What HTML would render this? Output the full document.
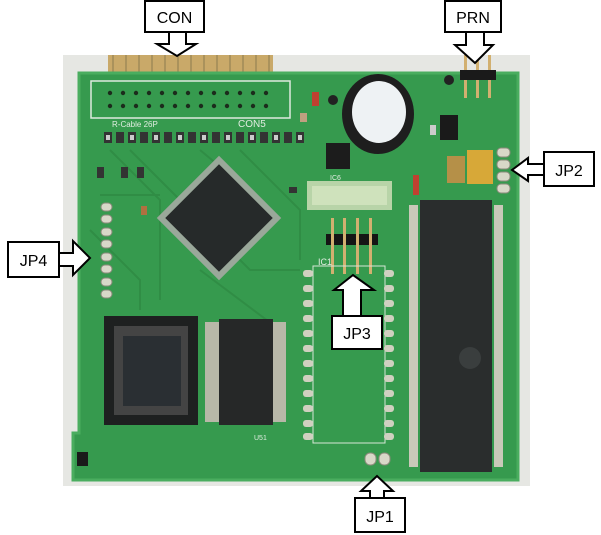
<!DOCTYPE html>
<html><head><meta charset="utf-8"><style>
html,body{margin:0;padding:0;background:#fff;width:601px;height:535px;overflow:hidden}
svg{display:block}
text{font-family:"Liberation Sans",sans-serif}
</style></head><body>
<svg width="601" height="535" viewBox="0 0 601 535" xmlns="http://www.w3.org/2000/svg">
<rect x="63" y="55" width="467" height="431" fill="#e6e7e3"/>
<!-- gold fingers -->
<g fill="#c9a969">
<rect x="108" y="55" width="165" height="19"/>
</g>
<g stroke="#8a7a50" stroke-width="1">
<line x1="113" y1="55" x2="113" y2="73"/><line x1="126" y1="55" x2="126" y2="73"/><line x1="139" y1="55" x2="139" y2="73"/><line x1="152" y1="55" x2="152" y2="73"/><line x1="165" y1="55" x2="165" y2="73"/><line x1="178" y1="55" x2="178" y2="73"/><line x1="191" y1="55" x2="191" y2="73"/><line x1="204" y1="55" x2="204" y2="73"/><line x1="217" y1="55" x2="217" y2="73"/><line x1="230" y1="55" x2="230" y2="73"/><line x1="243" y1="55" x2="243" y2="73"/><line x1="256" y1="55" x2="256" y2="73"/><line x1="269" y1="55" x2="269" y2="73"/>
</g>
<!-- board -->
<path d="M79 73 H518 V480 H73 V433 H79 Z" fill="#369a4e"/>
<path d="M79 73 H518 V480 H73 V433 H79 Z" fill="none" stroke="#4aad5f" stroke-width="3"/>
<!-- traces suggestion -->
<g stroke="#2f8a44" stroke-width="2" fill="none" opacity="0.8">
<path d="M110 150 L160 200 L160 300"/><path d="M130 150 L250 270 L300 270"/><path d="M200 150 L260 200"/><path d="M240 150 L300 210 L300 260"/><path d="M90 230 L140 280 L140 310"/><path d="M200 270 L280 330"/><path d="M100 195 H160"/>
</g>
<!-- CON5 connector -->
<rect x="91" y="81" width="199" height="37" fill="none" stroke="#dfe9df" stroke-width="1.5"/>
<g fill="#2a3a2a">
<rect x="108" y="90" width="190" height="4" fill="none"/>
</g>
<g fill="#1c2b1c">
<circle cx="110" cy="93" r="2.2"/><circle cx="123" cy="93" r="2.2"/><circle cx="136" cy="93" r="2.2"/><circle cx="149" cy="93" r="2.2"/><circle cx="162" cy="93" r="2.2"/><circle cx="175" cy="93" r="2.2"/><circle cx="188" cy="93" r="2.2"/><circle cx="201" cy="93" r="2.2"/><circle cx="214" cy="93" r="2.2"/><circle cx="227" cy="93" r="2.2"/><circle cx="240" cy="93" r="2.2"/><circle cx="253" cy="93" r="2.2"/><circle cx="266" cy="93" r="2.2"/>
<circle cx="110" cy="106" r="2.2"/><circle cx="123" cy="106" r="2.2"/><circle cx="136" cy="106" r="2.2"/><circle cx="149" cy="106" r="2.2"/><circle cx="162" cy="106" r="2.2"/><circle cx="175" cy="106" r="2.2"/><circle cx="188" cy="106" r="2.2"/><circle cx="201" cy="106" r="2.2"/><circle cx="214" cy="106" r="2.2"/><circle cx="227" cy="106" r="2.2"/><circle cx="240" cy="106" r="2.2"/><circle cx="253" cy="106" r="2.2"/><circle cx="266" cy="106" r="2.2"/>
</g>
<text x="112" y="127" font-size="8" fill="#e0ece0">R-Cable 26P</text>
<text x="238" y="127" font-size="10" fill="#e0ece0">CON5</text>
<!-- resistor row -->
<g fill="#333">
<rect x="104" y="132" width="8" height="11"/><rect x="116" y="132" width="8" height="11"/><rect x="128" y="132" width="8" height="11"/><rect x="140" y="132" width="8" height="11"/><rect x="152" y="132" width="8" height="11"/><rect x="164" y="132" width="8" height="11"/><rect x="176" y="132" width="8" height="11"/><rect x="188" y="132" width="8" height="11"/><rect x="200" y="132" width="8" height="11"/><rect x="212" y="132" width="8" height="11"/><rect x="224" y="132" width="8" height="11"/><rect x="236" y="132" width="8" height="11"/><rect x="248" y="132" width="8" height="11"/><rect x="260" y="132" width="8" height="11"/><rect x="272" y="132" width="8" height="11"/><rect x="284" y="132" width="8" height="11"/><rect x="296" y="132" width="8" height="11"/>
</g>
<g fill="#ccc"><rect x="106" y="135" width="4" height="5"/><rect x="130" y="135" width="4" height="5"/><rect x="154" y="135" width="4" height="5"/><rect x="178" y="135" width="4" height="5"/><rect x="202" y="135" width="4" height="5"/><rect x="226" y="135" width="4" height="5"/><rect x="250" y="135" width="4" height="5"/><rect x="274" y="135" width="4" height="5"/><rect x="298" y="135" width="4" height="5"/></g>
<!-- small parts -->
<rect x="97" y="167" width="7" height="11" fill="#333"/><rect x="121" y="167" width="7" height="11" fill="#333"/><rect x="137" y="167" width="7" height="11" fill="#333"/>
<rect x="289" y="187" width="8" height="6" fill="#333"/>
<rect x="141" y="206" width="6" height="9" fill="#b07040"/>
<rect x="312" y="92" width="7" height="14" fill="#c04030"/>
<circle cx="333" cy="100" r="5" fill="#222"/>
<rect x="300" y="113" width="7" height="9" fill="#c0a080"/>
<!-- buzzer -->
<ellipse cx="378" cy="114" rx="36" ry="40" fill="#1e1e1e"/>
<ellipse cx="379" cy="112" rx="27" ry="31" fill="#eef2f4"/>
<!-- IC6 -->
<rect x="326" y="143" width="24" height="26" fill="#1c1c1c"/>
<text x="330" y="180" font-size="7" fill="#e0ece0">IC6</text>
<!-- PRN header -->
<rect x="460" y="70" width="36" height="10" fill="#1a1a1a"/>
<g fill="#d2b070"><rect x="464" y="55" width="3" height="15"/><rect x="476" y="55" width="3" height="15"/><rect x="488" y="55" width="3" height="15"/><rect x="464" y="80" width="3" height="18"/><rect x="476" y="80" width="3" height="18"/><rect x="488" y="80" width="3" height="18"/></g>
<circle cx="449" cy="80" r="5" fill="#222"/>
<rect x="440" y="115" width="18" height="25" fill="#1a1a1a"/>
<rect x="430" y="125" width="6" height="10" fill="#ccc"/>
<!-- tantalum caps -->
<rect x="447" y="156" width="18" height="27" fill="#b59048"/>
<rect x="467" y="150" width="26" height="34" fill="#d7a838"/>
<!-- JP2 pads -->
<g fill="#d8d8c8" stroke="#8a8a7a" stroke-width="1"><rect x="497" y="148" width="13" height="9" rx="4"/><rect x="497" y="160" width="13" height="9" rx="4"/><rect x="497" y="172" width="13" height="9" rx="4"/><rect x="497" y="184" width="13" height="9" rx="4"/></g>
<rect x="413" y="175" width="6" height="20" fill="#c04030"/>
<!-- window -->
<rect x="307" y="181" width="85" height="29" fill="#b8d4a8"/>
<rect x="312" y="186" width="75" height="19" fill="#cfe2bc"/>
<!-- QFP -->
<g transform="translate(219 218) rotate(45)">
<rect x="-44" y="-44" width="88" height="88" fill="#9aa89a"/>
<rect x="-38" y="-38" width="76" height="76" fill="#262a2a"/>
</g>
<!-- JP4 pads -->
<g fill="#d8d8c8" stroke="#8a8a7a" stroke-width="1">
<rect x="101" y="203" width="11" height="8" rx="4"/><rect x="101" y="215" width="11" height="8" rx="4"/><rect x="101" y="228" width="11" height="8" rx="4"/><rect x="101" y="240" width="11" height="8" rx="4"/><rect x="101" y="253" width="11" height="8" rx="4"/><rect x="101" y="265" width="11" height="8" rx="4"/><rect x="101" y="278" width="11" height="8" rx="4"/><rect x="101" y="290" width="11" height="8" rx="4"/>
</g>
<!-- JP3 header -->
<rect x="326" y="234" width="52" height="11" fill="#151515"/>
<g fill="#d2b070"><rect x="331" y="218" width="3" height="56"/><rect x="343" y="218" width="3" height="56"/><rect x="356" y="218" width="3" height="56"/><rect x="369" y="218" width="3" height="56"/></g>
<text x="318" y="265" font-size="9" fill="#e0ece0">IC1</text>
<!-- DIP socket outline -->
<rect x="313" y="266" width="72" height="177" fill="none" stroke="#d6e6d6" stroke-width="1"/>
<g fill="#d0d0c0">
<rect x="303" y="270" width="10" height="7" rx="3"/><rect x="303" y="285" width="10" height="7" rx="3"/><rect x="303" y="300" width="10" height="7" rx="3"/><rect x="303" y="315" width="10" height="7" rx="3"/><rect x="303" y="330" width="10" height="7" rx="3"/><rect x="303" y="345" width="10" height="7" rx="3"/><rect x="303" y="360" width="10" height="7" rx="3"/><rect x="303" y="375" width="10" height="7" rx="3"/><rect x="303" y="390" width="10" height="7" rx="3"/><rect x="303" y="405" width="10" height="7" rx="3"/><rect x="303" y="420" width="10" height="7" rx="3"/><rect x="303" y="433" width="10" height="7" rx="3"/>
<rect x="384" y="270" width="10" height="7" rx="3"/><rect x="384" y="285" width="10" height="7" rx="3"/><rect x="384" y="300" width="10" height="7" rx="3"/><rect x="384" y="315" width="10" height="7" rx="3"/><rect x="384" y="330" width="10" height="7" rx="3"/><rect x="384" y="345" width="10" height="7" rx="3"/><rect x="384" y="360" width="10" height="7" rx="3"/><rect x="384" y="375" width="10" height="7" rx="3"/><rect x="384" y="390" width="10" height="7" rx="3"/><rect x="384" y="405" width="10" height="7" rx="3"/><rect x="384" y="420" width="10" height="7" rx="3"/><rect x="384" y="433" width="10" height="7" rx="3"/>
</g>
<!-- big DIP -->
<g fill="#c9c9b9">
<rect x="409" y="205" width="9" height="262"/>
<rect x="494" y="205" width="9" height="262"/>
</g>
<rect x="420" y="200" width="72" height="272" fill="#2a2d2d"/>
<circle cx="470" cy="358" r="11" fill="#3a3e3e"/>
<!-- PLCC -->
<rect x="104" y="316" width="94" height="109" fill="#1e2020"/>
<rect x="114" y="326" width="74" height="89" fill="#444"/>
<rect x="123" y="336" width="58" height="70" fill="#2a2f33"/>
<!-- SOP -->
<rect x="205" y="322" width="81" height="100" fill="#b8b8a8"/>
<rect x="219" y="319" width="54" height="106" fill="#262828"/>
<text x="254" y="440" font-size="7" fill="#e0ece0">U51</text>
<!-- JP1 pads -->
<g fill="#d8d8c8" stroke="#8a8a7a"><rect x="365" y="453" width="11" height="12" rx="5"/><rect x="379" y="453" width="11" height="12" rx="5"/></g>
<rect x="77" y="452" width="11" height="14" fill="#1a1a1a"/>
<!-- labels/arrows -->
<g fill="#fff" stroke="#000" stroke-width="2">
<path d="M169 32 H186 V44 H196 L177 56 L157 44 H169 Z"/>
<path d="M466 32 H484 V45 H493 L475 63 L455 45 H466 Z"/>
<path d="M544 164 H528 V158 L512 170 L528 181 V175 H544 Z"/>
<path d="M59 253 H73 V241 L90 258 L73 275 V266 H59 Z"/>
<path d="M343 316 V290 H334 L353 275 L374 290 H361 V316 Z"/>
<path d="M370 498 V491 H361 L377 476 L393 491 H384 V498 Z"/>
<rect x="145" y="1" width="59" height="31"/>
<rect x="445" y="1" width="56" height="31"/>
<rect x="544" y="152" width="50" height="34"/>
<rect x="8" y="242" width="51" height="35"/>
<rect x="332" y="316" width="50" height="33"/>
<rect x="355" y="498" width="50" height="34"/>
</g>
<g font-size="16" fill="#000" text-anchor="middle">
<text x="174.5" y="23">CON</text>
<text x="473" y="23">PRN</text>
<text x="569" y="176">JP2</text>
<text x="33.5" y="266">JP4</text>
<text x="357" y="339">JP3</text>
<text x="380" y="522">JP1</text>
</g>
</svg>
</body></html>
